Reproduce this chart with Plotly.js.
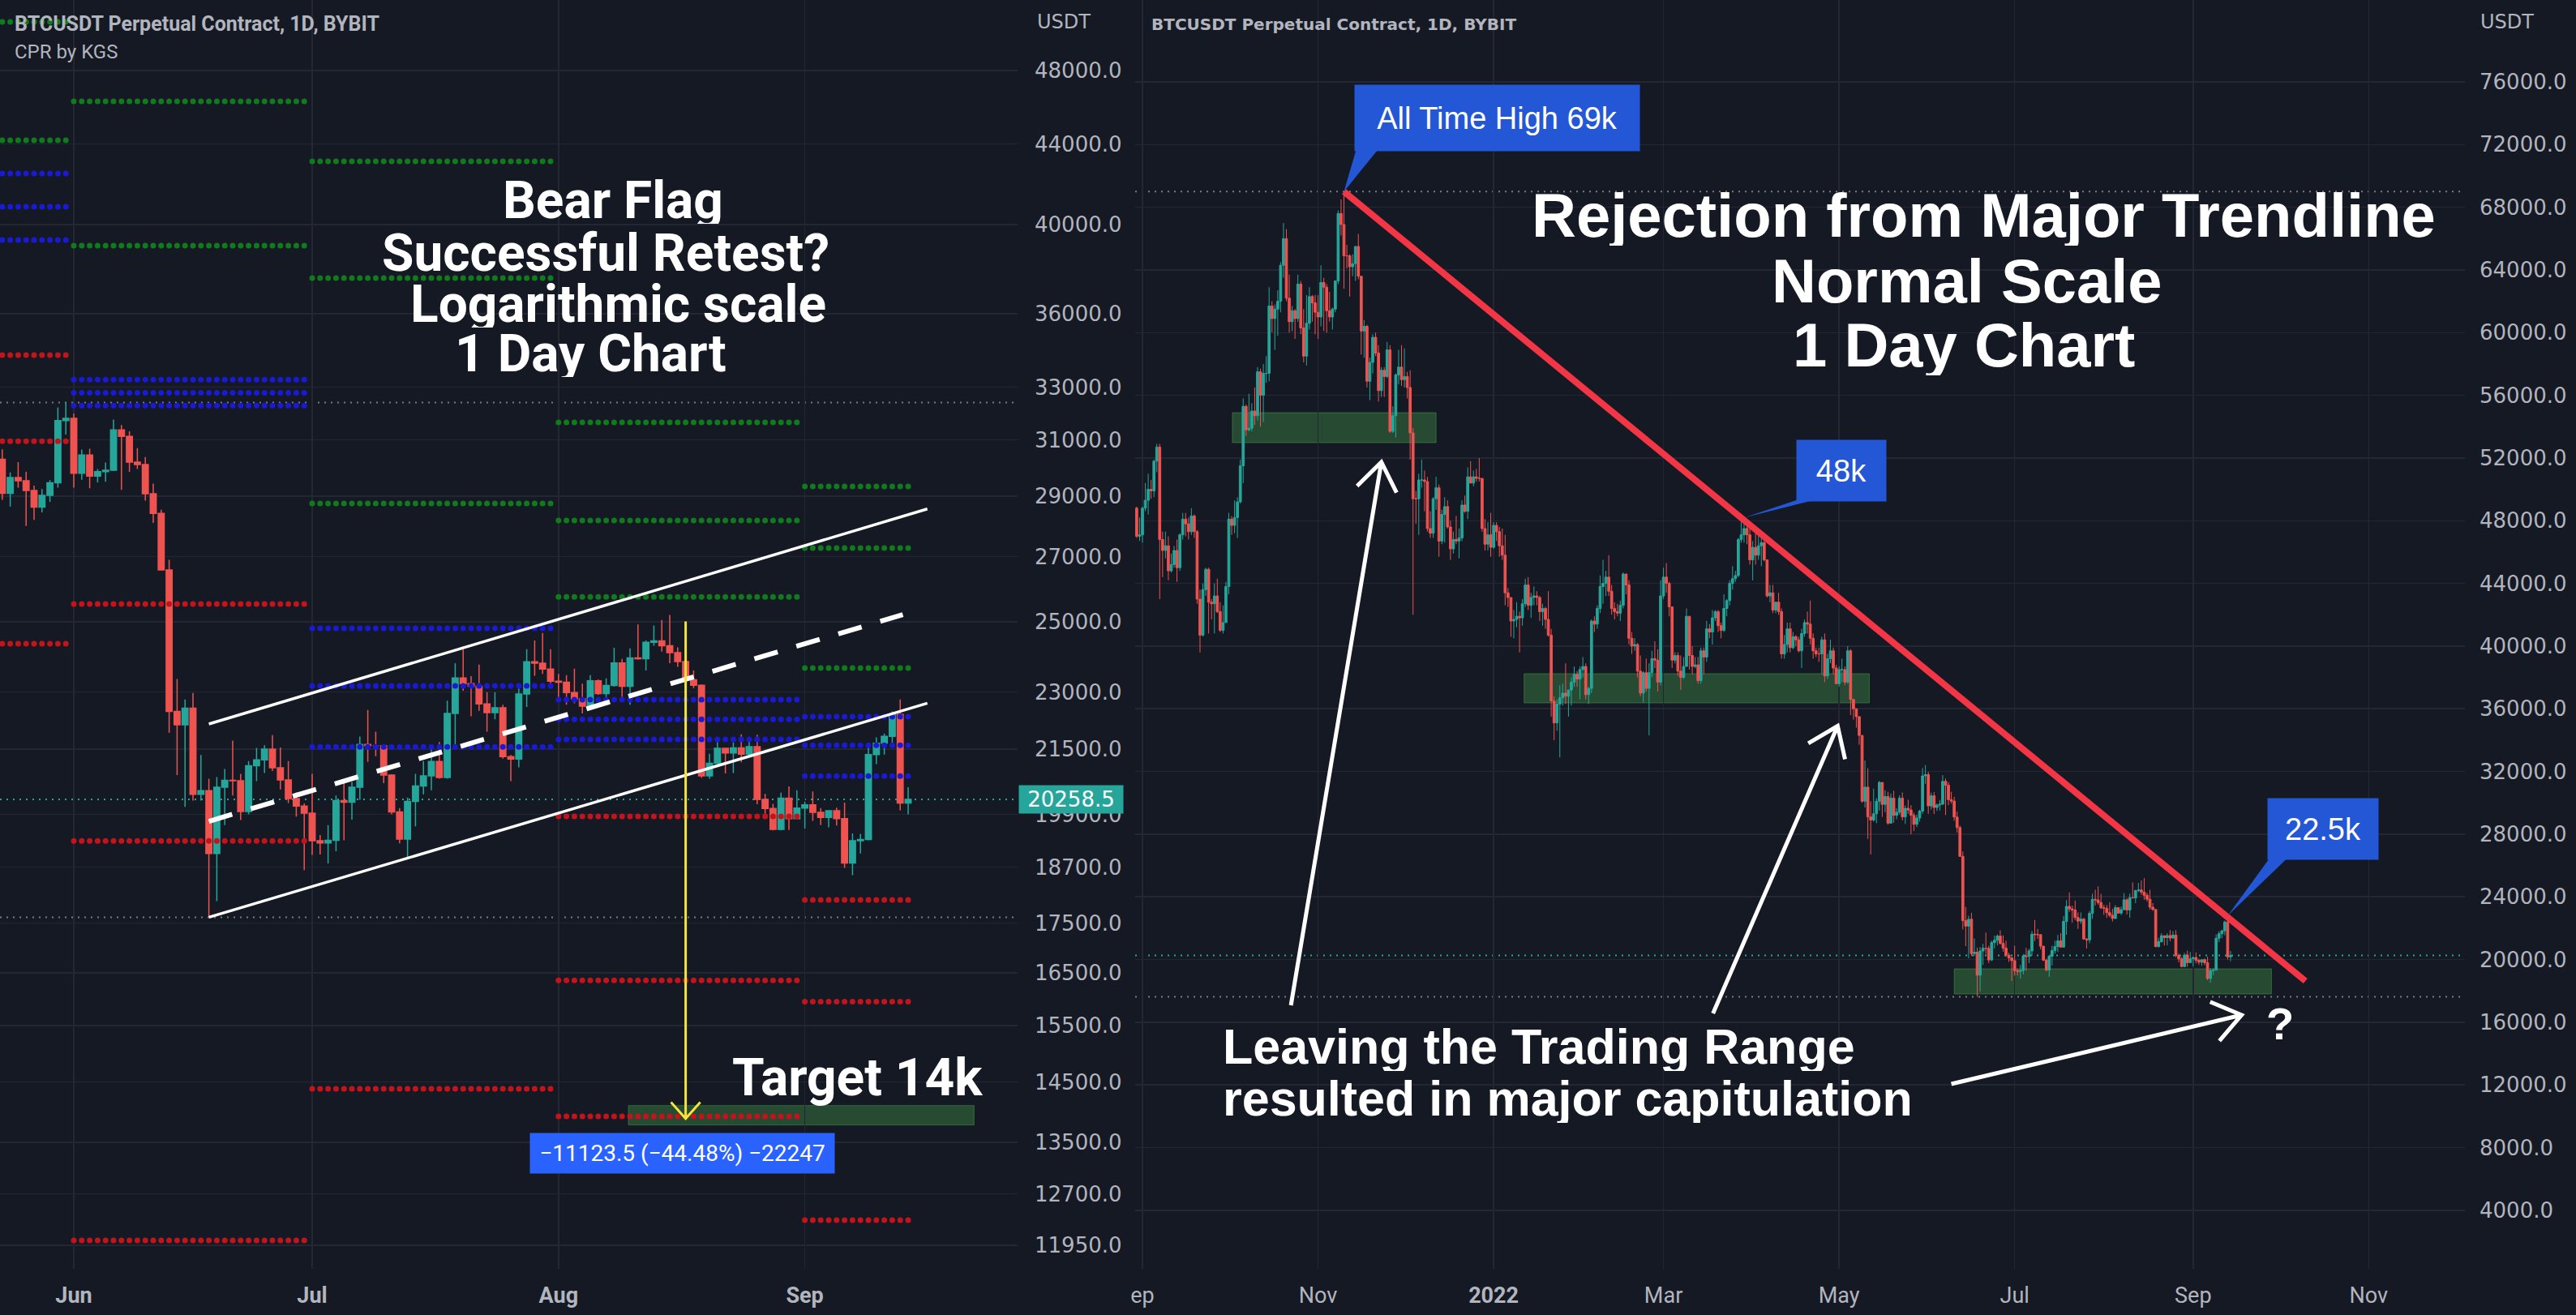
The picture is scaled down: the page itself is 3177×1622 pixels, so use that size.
<!DOCTYPE html>
<html>
<head>
<meta charset="utf-8">
<script src="https://cdn.plot.ly/plotly-3.0.1.min.js"></script>
<style>
html, body { margin: 0; padding: 0; background: #151924; }
#chart { width: 3177px; height: 1622px; }
</style>
</head>
<body>
<div id="chart"></div>
<script>
// BTCUSDT daily candles 2021-08-29 .. 2022-09-14, prices in thousands (open = previous close)
var startDay = [2021, 7, 29];
var firstOpen = 48.9;
var closes = [
  48.8, 47.0, 47.1,
  48.8, 49.3, 50.0, 49.9, 51.8, 52.7, 46.8, 46.1, 46.4, 44.8, 45.2, 46.1, 45.0, 47.1, 48.1, 47.8, 47.3, 48.3, 47.3, 43.0, 40.7, 43.6, 44.9, 42.8, 42.7, 43.2, 42.2, 41.0, 41.5, 43.8,
  48.1, 47.7, 48.2, 49.2, 51.5, 55.3, 53.8, 53.9, 55.0, 54.7, 57.5, 56.0, 57.4, 57.4, 61.7, 60.9, 61.5, 62.0, 64.3, 66.0, 62.2, 60.7, 61.4, 60.9, 63.1, 60.3, 58.5, 60.6, 62.3, 61.9, 61.3,
  61.0, 63.2, 62.9, 61.4, 61.0, 61.5, 63.3, 67.6, 66.9, 64.9, 64.9, 64.2, 64.4, 65.5, 63.6, 60.1, 60.4, 56.9, 58.1, 59.7, 58.7, 56.3, 57.6, 57.2, 58.9, 53.7, 54.7, 57.3, 57.8, 57.0,
  57.2, 56.5, 53.6, 49.4, 49.4, 50.6, 50.6, 50.5, 47.5, 47.2, 49.4, 50.1, 46.7, 48.4, 48.9, 47.6, 46.2, 46.8, 46.7, 46.9, 49.0, 48.6, 50.8, 50.4, 50.8, 50.7, 50.7, 47.5, 46.5, 47.1, 46.3,
  47.7, 47.3, 46.4, 45.8, 43.4, 43.1, 41.6, 41.7, 41.9, 41.8, 42.7, 43.9, 42.6, 43.1, 43.2, 43.1, 42.2, 42.4, 41.7, 40.7, 36.5, 35.1, 36.3, 36.7, 37.0, 36.8, 37.2, 37.7, 38.2, 37.9, 38.5,
  38.7, 36.9, 37.3, 41.6, 41.4, 42.4, 43.8, 44.0, 44.4, 43.5, 42.4, 42.2, 42.1, 42.6, 44.6, 43.9, 40.5, 40.0, 40.1, 38.4, 37.0, 38.3, 37.3, 38.3, 39.2, 39.1, 37.7, 43.2,
  44.4, 44.0, 42.5, 39.1, 39.4, 38.4, 38.0, 38.7, 41.9, 39.4, 38.7, 38.8, 37.8, 39.7, 39.3, 41.1, 40.9, 41.8, 42.2, 41.3, 41.0, 42.4, 42.9, 44.0, 44.3, 44.5, 46.8, 47.1, 47.5, 47.1, 45.5,
  46.3, 45.8, 46.4, 46.6, 45.5, 43.2, 43.4, 42.3, 42.8, 42.2, 39.5, 40.1, 41.1, 39.9, 40.6, 40.4, 39.7, 40.8, 41.5, 41.4, 40.5, 39.7, 39.5, 39.5, 40.4, 38.1, 39.2, 39.7, 38.6, 37.6,
  38.5, 38.5, 37.7, 39.7, 36.6, 36.0, 35.5, 34.3, 30.1, 31.0, 29.1, 28.9, 29.3, 30.1, 31.3, 29.9, 30.4, 28.7, 30.3, 29.2, 29.4, 30.3, 29.1, 29.65, 29.54, 29.2, 28.63, 29.03, 29.47, 31.72, 31.8,
  29.8, 30.45, 29.7, 29.86, 29.91, 31.37, 31.13, 30.2, 30.11, 29.09, 28.42, 26.58, 22.48, 22.13, 22.57, 20.38, 20.47, 19.0, 20.55, 20.72, 20.71, 19.97, 21.08, 21.23, 21.5, 21.03, 20.73, 20.28, 20.1, 19.93,
  19.29, 19.24, 19.3, 20.23, 20.19, 20.55, 21.62, 21.59, 21.59, 20.85, 19.96, 19.33, 20.21, 20.58, 20.83, 21.19, 20.79, 22.43, 23.39, 23.23, 23.16, 22.68, 22.45, 22.58, 21.31, 21.25, 22.95, 23.84, 23.8, 23.64, 23.3,
  23.27, 22.99, 22.82, 22.62, 23.31, 22.96, 23.18, 23.81, 23.16, 23.95, 23.93, 24.4, 24.44, 24.3, 24.1, 23.85, 23.34, 23.19, 20.83, 21.14, 21.52, 21.4, 21.53, 21.37, 21.56, 20.26, 20.04, 19.55, 20.29, 19.8, 20.05,
  20.13, 19.95, 19.83, 19.99, 19.8, 18.79, 19.29, 19.32, 21.36, 21.65, 21.83, 22.4, 20.17, 20.2585
];
var highs = [
  49.6, 48.9, 48.2,
  48.9, 50.4, 51.0, 50.6, 51.9, 52.9, 52.9, 47.3, 47.3, 47.0, 45.9, 46.4, 46.8, 47.2, 48.5, 48.5, 48.2, 48.8, 48.4, 47.4, 43.6, 44.0, 45.0, 45.0, 43.0, 44.0, 44.3, 42.8, 42.6, 44.1,
  48.5, 48.3, 49.3, 49.5, 51.9, 55.8, 55.4, 56.1, 55.5, 56.5, 57.8, 57.7, 58.0, 58.5, 62.9, 62.0, 61.8, 62.7, 64.5, 67.0, 66.6, 63.7, 61.7, 61.5, 63.7, 63.3, 61.5, 62.4, 62.9, 62.4, 62.4,
  62.4, 64.3, 63.5, 63.1, 62.6, 61.6, 63.3, 67.8, 68.5, 69.0, 65.6, 65.0, 65.0, 65.5, 66.3, 63.6, 60.8, 60.5, 58.4, 59.9, 60.0, 59.2, 57.8, 57.8, 59.4, 59.2, 55.3, 57.4, 58.9, 59.2,
  59.0, 57.5, 57.6, 53.9, 49.9, 51.0, 51.9, 51.2, 50.8, 48.6, 49.5, 50.8, 50.3, 48.7, 49.5, 49.3, 48.0, 47.3, 48.3, 47.5, 49.3, 49.6, 51.4, 51.8, 51.2, 51.3, 52.0, 50.7, 48.1, 47.9, 48.5,
  47.9, 47.9, 47.6, 47.5, 47.1, 43.7, 43.1, 42.3, 42.8, 42.2, 43.0, 44.3, 44.4, 43.4, 43.8, 43.5, 43.2, 42.7, 42.5, 43.5, 41.1, 36.8, 36.6, 37.5, 37.6, 38.9, 37.2, 38.0, 38.7, 38.4, 38.7,
  39.3, 38.9, 37.4, 41.7, 41.9, 42.6, 44.5, 45.5, 44.8, 45.8, 43.9, 42.8, 42.7, 42.9, 44.7, 44.6, 44.2, 40.9, 40.5, 40.2, 39.4, 38.4, 39.2, 38.9, 39.7, 40.3, 39.8, 44.2,
  45.0, 45.3, 44.1, 42.5, 39.6, 39.6, 39.4, 39.3, 42.4, 41.9, 40.0, 39.3, 39.3, 39.9, 39.9, 41.6, 41.4, 42.3, 42.3, 42.3, 41.5, 43.3, 43.0, 44.2, 45.1, 44.8, 46.9, 48.2, 48.2, 47.7, 47.6,
  46.7, 47.2, 47.4, 46.9, 47.2, 45.5, 43.9, 43.9, 42.8, 43.4, 42.4, 40.7, 41.5, 41.5, 40.9, 40.7, 40.6, 41.1, 41.7, 42.2, 42.9, 40.8, 39.9, 39.9, 40.6, 40.8, 39.5, 40.4, 39.9, 38.8,
  38.7, 39.2, 38.7, 40.0, 39.8, 36.6, 36.0, 35.5, 34.3, 32.7, 32.2, 30.1, 30.9, 30.3, 31.4, 31.3, 30.8, 30.7, 30.6, 30.77, 29.66, 30.48, 30.66, 29.83, 30.2, 29.85, 29.37, 29.25, 29.56, 32.22, 32.4,
  31.98, 30.65, 30.68, 29.95, 30.18, 31.76, 31.55, 31.32, 30.7, 30.38, 29.44, 28.54, 26.9, 23.36, 22.8, 22.98, 21.35, 20.76, 20.8, 21.0, 21.72, 20.88, 21.2, 21.53, 21.6, 21.86, 21.54, 21.2, 20.43, 20.16,
  20.88, 19.42, 19.65, 20.35, 20.75, 20.68, 21.82, 22.52, 21.95, 21.6, 20.87, 20.05, 20.3, 20.88, 21.2, 21.57, 21.68, 22.77, 23.8, 24.28, 23.44, 23.76, 23.0, 23.0, 22.66, 21.35, 23.1, 24.2, 24.45, 24.67, 24.2,
  23.5, 23.47, 23.65, 23.23, 23.47, 23.35, 23.38, 24.24, 23.92, 24.22, 24.92, 24.45, 24.89, 25.05, 25.2, 24.25, 24.45, 23.6, 23.21, 21.38, 21.68, 21.52, 21.67, 21.88, 21.81, 21.87, 20.39, 20.15, 20.42, 20.57, 20.48,
  20.2, 20.45, 20.05, 20.0, 20.06, 20.18, 19.46, 19.45, 21.6, 21.8, 21.9, 22.48, 22.8, 20.55
];
var lows = [
  47.8, 46.9, 46.7,
  46.6, 48.6, 48.4, 49.4, 49.5, 51.1, 43.0, 44.4, 45.6, 44.2, 44.7, 45.0, 44.1, 44.8, 46.8, 47.0, 46.8, 47.1, 46.9, 42.7, 39.6, 40.6, 43.2, 40.8, 41.7, 40.8, 42.1, 40.9, 40.8, 41.5,
  43.3, 47.1, 47.2, 46.9, 49.1, 50.4, 53.4, 53.7, 53.7, 54.1, 54.4, 54.0, 54.3, 56.8, 56.9, 60.0, 58.9, 59.8, 61.3, 63.5, 62.0, 60.0, 60.1, 59.6, 60.7, 59.9, 58.1, 57.9, 60.2, 60.7, 59.9,
  59.6, 60.4, 60.1, 60.0, 60.7, 60.2, 61.3, 63.1, 66.2, 62.8, 64.1, 62.3, 63.6, 63.3, 63.4, 58.6, 58.4, 56.5, 55.7, 57.4, 58.5, 55.6, 55.9, 55.9, 57.1, 53.6, 53.6, 53.3, 56.7, 56.6,
  56.5, 55.8, 51.9, 42.0, 47.8, 47.1, 50.1, 48.6, 47.3, 46.9, 46.9, 48.7, 45.7, 46.5, 46.6, 47.5, 45.5, 45.9, 46.5, 45.6, 46.7, 48.5, 48.1, 50.4, 50.2, 50.5, 50.5, 47.3, 46.1, 46.1, 45.7,
  46.2, 46.7, 45.7, 45.5, 42.6, 42.5, 40.6, 40.5, 41.2, 39.6, 41.3, 42.5, 42.3, 41.8, 42.6, 42.6, 41.6, 41.3, 41.1, 40.6, 35.5, 34.0, 34.6, 32.9, 36.2, 36.3, 35.5, 36.2, 37.4, 37.4, 36.6,
  38.0, 36.6, 36.3, 37.0, 40.9, 41.1, 42.1, 42.7, 43.2, 43.2, 42.0, 41.7, 41.9, 41.6, 42.4, 43.3, 40.1, 39.5, 39.7, 38.0, 36.8, 36.4, 37.1, 34.3, 38.0, 38.6, 37.1, 37.5,
  43.0, 43.4, 41.9, 38.6, 38.9, 38.1, 37.2, 37.9, 38.7, 38.5, 38.2, 38.6, 37.6, 37.6, 38.2, 39.0, 40.5, 40.1, 41.6, 40.9, 40.5, 40.9, 41.9, 42.6, 43.6, 44.1, 44.4, 46.6, 46.6, 46.5, 45.2,
  44.2, 45.2, 45.5, 45.1, 45.4, 43.1, 42.8, 42.1, 42.1, 42.0, 39.2, 39.2, 39.6, 39.6, 39.8, 40.0, 39.6, 38.6, 40.6, 40.8, 40.1, 39.2, 39.3, 39.0, 38.2, 37.7, 37.9, 38.9, 38.2, 37.6,
  37.4, 37.7, 37.5, 37.6, 35.6, 35.3, 34.8, 33.7, 30.0, 29.7, 27.7, 26.7, 28.8, 28.7, 29.5, 29.1, 29.4, 28.6, 28.7, 28.73, 28.95, 29.24, 28.88, 28.65, 29.3, 28.0, 28.2, 28.45, 28.8, 29.3, 31.2,
  29.3, 29.57, 29.28, 29.48, 29.5, 29.88, 29.22, 29.85, 29.95, 28.85, 28.1, 26.56, 21.92, 20.85, 20.08, 20.23, 20.23, 17.62, 17.96, 19.65, 20.35, 19.77, 19.9, 20.7, 20.9, 20.95, 20.5, 20.17, 19.85, 18.63,
  18.97, 18.98, 18.78, 19.05, 19.3, 19.78, 20.25, 21.18, 21.32, 20.65, 19.9, 19.23, 18.9, 19.62, 20.38, 20.48, 20.76, 20.76, 21.58, 23.04, 22.35, 22.5, 21.95, 22.27, 21.26, 20.7, 21.04, 22.6, 23.45, 23.5, 23.22,
  22.85, 22.66, 22.7, 22.43, 22.59, 22.93, 22.84, 23.15, 22.87, 22.66, 23.9, 23.6, 24.3, 24.13, 23.8, 23.7, 23.18, 23.11, 20.78, 20.76, 21.07, 20.89, 20.9, 21.17, 21.32, 20.14, 19.82, 19.53, 19.53, 19.54, 19.8,
  19.57, 19.75, 19.65, 19.6, 19.64, 18.68, 18.52, 19.0, 19.3, 21.12, 21.36, 21.55, 20.0, 19.9
];

// CPR by KGS monthly levels (left chart)
var cprMonths = ['2022-05', '2022-06', '2022-07', '2022-08', '2022-09'];
var cprGreen = [[50846, 44197], [46280, 39015], [43110, 37545, 28752], [31651, 28180, 25747], [29338, 27274, 23664]];
var cprBlue = [[42490, 40850, 39280], [33298, 32780, 32290], [24802, 23170, 21557], [22795, 22272, 21749], [22339, 21600, 20827]];
var cprRed = [[34272, 30955, 24355], [25527, 19286, 12019], [14381], [19853, 16353, 13920], [17986, 15947, 12312]];

// axis ticks
var leftTicks = [48000, 44000, 40000, 36000, 33000, 31000, 29000, 27000, 25000, 23000, 21500, 19900, 18700, 17500, 16500, 15500, 14500, 13500, 12700, 11950];
var rightTicks = [76000, 72000, 68000, 64000, 60000, 56000, 52000, 48000, 44000, 40000, 36000, 32000, 28000, 24000, 20000, 16000, 12000, 8000, 4000];
var leftMonths = ['2022-06-01', '2022-07-01', '2022-08-01', '2022-09-01'];
var leftMonthText = ['Jun', 'Jul', 'Aug', 'Sep'];
var rightMonths = ['2021-09-01', '2021-11-01', '2022-01-01', '2022-03-01', '2022-05-01', '2022-07-01', '2022-09-01', '2022-11-01'];
var rightMonthText = ['ep', 'Nov', '<b>2022</b>', 'Mar', 'May', 'Jul', 'Sep', 'Nov'];

var W = 3177, H = 1622;
var plotBottom = 1565, leftEdge = 1255, rightStart = 1400, rightEdge = 3040;
var BG = '#151924', GRID = '#232733', AXTXT = '#b2b5be';
var UP = '#26a69a', DOWN = '#ef5350';

var leftRange = ['2022-05-22 17:08:00', '2022-09-27 18:35:00'];
var leftY = [Math.log10(11623), Math.log10(52180)];
var rightRange = ['2021-08-29 11:15:00', '2022-12-04 10:00:00'];
var rightY = [267, 81224];

function toMs(s) {
  var p = s.split(/[- :_T]/).map(Number);
  return Date.UTC(p[0], p[1] - 1, p[2], p[3] || 0, p[4] || 0, p[5] || 0);
}
function toStr(t) { return new Date(t).toISOString().slice(0, 19).replace('T', '_'); }
function pp(d) { return d.replace(' ', '_'); }

var dates = [], o = [], h = [], l = [], c = [];
var t0 = Date.UTC(startDay[0], startDay[1], startDay[2]);
for (var i = 0; i < closes.length; i++) {
  dates.push(new Date(t0 + i * 864e5).toISOString().slice(0, 10));
  o.push((i === 0 ? firstOpen : closes[i - 1]) * 1000);
  h.push(highs[i] * 1000);
  l.push(lows[i] * 1000);
  c.push(closes[i] * 1000);
}
var lastPrice = c[c.length - 1];
var lStart = dates.indexOf('2022-05-15');
var vis = dates.map(function (d) { return d >= '2022-05-23'; });
var leftHigh = Math.max.apply(null, h.filter(function (v, i) { return vis[i]; }));
var leftLow = Math.min.apply(null, l.filter(function (v, i) { return vis[i]; }));
var rightHigh = Math.max.apply(null, h);
var rightLow = Math.min.apply(null, l);

// CPR dots
function cprTrace(levels, color) {
  var xs = [], ys = [];
  dates.forEach(function (d) {
    var k = cprMonths.indexOf(d.slice(0, 7));
    if (k < 0) return;
    levels[k].forEach(function (v) { xs.push(d); ys.push(v); });
  });
  return { type: 'scatter', mode: 'markers', x: xs, y: ys, xaxis: 'x', yaxis: 'y',
    marker: { color: color, size: 7, line: { width: 0 } }, hoverinfo: 'skip' };
}

var traces = [
  cprTrace(cprGreen, '#107a1c'),
  cprTrace(cprBlue, '#1a1ad2'),
  cprTrace(cprRed, '#c3141b'),
  { type: 'candlestick', x: dates.slice(lStart), open: o.slice(lStart), high: h.slice(lStart), low: l.slice(lStart), close: c.slice(lStart),
    xaxis: 'x', yaxis: 'y', hoverinfo: 'skip',
    increasing: { line: { color: UP, width: 1.5 }, fillcolor: UP },
    decreasing: { line: { color: DOWN, width: 1.5 }, fillcolor: DOWN } },
  { type: 'candlestick', x: dates, open: o, high: h, low: l, close: c,
    xaxis: 'x2', yaxis: 'y2', hoverinfo: 'skip',
    increasing: { line: { color: UP, width: 1 }, fillcolor: UP },
    decreasing: { line: { color: DOWN, width: 1 }, fillcolor: DOWN } }
];

// pixel helpers for arrow heads
var PL = { x0: toMs(leftRange[0]), x1: toMs(leftRange[1]), w: leftEdge, y0: leftY[0], y1: leftY[1], h: plotBottom, log: true };
var PR = { x0: toMs(rightRange[0]), x1: toMs(rightRange[1]), w: rightEdge - rightStart, y0: rightY[0], y1: rightY[1], h: plotBottom, log: false };
function toPx(P, x, y) {
  return [(toMs(x) - P.x0) / (P.x1 - P.x0) * P.w, ((P.log ? Math.log10(y) : y) - P.y0) / (P.y1 - P.y0) * P.h];
}
function fromPx(P, px, py) {
  var v = P.y0 + py / P.h * (P.y1 - P.y0);
  return toStr(P.x0 + px / P.w * (P.x1 - P.x0)) + ',' + (P.log ? Math.pow(10, v) : v);
}
function arrowPath(P, tail, tip, len, deg) {
  var a = toPx(P, tail[0], tail[1]), b = toPx(P, tip[0], tip[1]);
  var dx = a[0] - b[0], dy = a[1] - b[1], n = Math.sqrt(dx * dx + dy * dy);
  dx /= n; dy /= n;
  var r = deg * Math.PI / 180;
  function arm(s) {
    var cs = Math.cos(s * r), sn = Math.sin(s * r);
    return fromPx(P, b[0] + len * (dx * cs - dy * sn), b[1] + len * (dx * sn + dy * cs));
  }
  var tp = fromPx(P, b[0], b[1]);
  return 'M' + fromPx(P, a[0], a[1]) + 'L' + tp + 'M' + arm(1) + 'L' + tp + 'L' + arm(-1);
}

var shapes = [];
function hline(xref, yref, y, color) {
  shapes.push({ type: 'line', xref: xref + ' domain', x0: 0, x1: 1, yref: yref, y0: y, y1: y, layer: 'below',
    line: { color: color, width: 2, dash: '2px,6px' } });
}
hline('x', 'y', leftHigh, '#787b86');
hline('x', 'y', leftLow, '#787b86');
hline('x', 'y', lastPrice, UP);
hline('x2', 'y2', rightHigh, '#787b86');
hline('x2', 'y2', rightLow, '#787b86');
hline('x2', 'y2', lastPrice, UP);

function box(xref, yref, x0, x1, y0, y1) {
  shapes.push({ type: 'rect', xref: xref, yref: yref, x0: x0, x1: x1, y0: y0, y1: y1, layer: 'below',
    fillcolor: 'rgba(76,175,80,0.33)', line: { color: 'rgba(76,175,80,0.45)', width: 1 } });
}
box('x', 'y', '2022-08-09 19:00', '2022-09-22 07:00', 13780, 14100);
box('x2', 'y2', '2021-10-02 06:00', '2021-12-12 00:00', 52980, 54890);
box('x2', 'y2', '2022-01-11 14:00', '2022-05-11 12:00', 36375, 38237);
box('x2', 'y2', '2022-06-10 00:00', '2022-09-28 05:00', 17804, 19407);

// left chart drawings
function seg(xref, yref, a, b, line) {
  shapes.push({ type: 'line', xref: xref, yref: yref, x0: a[0], y0: a[1], x1: b[0], y1: b[1], line: line });
}
seg('x', 'y', ['2022-06-18', 22150], ['2022-09-16 10:00', 28570], { color: '#ffffff', width: 3.5 });
seg('x', 'y', ['2022-06-18', 17620], ['2022-09-16 10:00', 22700], { color: '#ffffff', width: 3.5 });
seg('x', 'y', ['2022-06-18', 19740], ['2022-09-13 08:00', 25210], { color: '#ffffff', width: 6, dash: '30px,24px' });
shapes.push({ type: 'path', xref: 'x', yref: 'y', path: arrowPath(PL, ['2022-08-17', 25008], ['2022-08-17', 13885], 27, 42),
  line: { color: '#f5e43a', width: 3 }, fillcolor: 'rgba(0,0,0,0)' });

// right chart drawings
seg('x2', 'y2', ['2021-11-10', 69000], ['2022-10-10', 18630], { color: '#f23645', width: 8 });
[[['2021-10-22 14:00', 17078], ['2021-11-23 00:00', 51738]],
 [['2022-03-18 05:00', 16562], ['2022-04-30 12:00', 34900]],
 [['2022-06-09 00:00', 12060], ['2022-09-17 20:00', 16460]]].forEach(function (ar) {
  shapes.push({ type: 'path', xref: 'x2', yref: 'y2', path: arrowPath(PR, ar[0], ar[1], 42, 36),
    line: { color: '#ffffff', width: 5 }, fillcolor: 'rgba(0,0,0,0)' });
});
function wedge(b1, b2, tip) {
  shapes.push({ type: 'path', xref: 'x2', yref: 'y2', fillcolor: '#2457d6', line: { width: 0 },
    path: 'M' + pp(b1[0]) + ',' + b1[1] + 'L' + pp(tip[0]) + ',' + tip[1] + 'L' + pp(b2[0]) + ',' + b2[1] + 'Z' });
}
wedge(['2021-11-14 07:00', 71700], ['2021-11-21 22:00', 71700], ['2021-11-10 00:00', 69000]);
wedge(['2022-04-16 19:00', 49350], ['2022-04-22 23:00', 49350], ['2022-03-29 00:00', 48200]);
wedge(['2022-09-27 14:00', 26480], ['2022-10-03 19:00', 26480], ['2022-09-13 00:00', 22800]);

// text
var ann = [];
function label(text, xpx, ypx, font, anchor, boxH) {
  var a = { xref: 'paper', yref: 'paper', x: xpx / W, y: 1 - ypx / H, text: text, showarrow: false,
    xanchor: anchor || 'center', yanchor: 'middle', font: font };
  if (boxH) { a.height = boxH; a.borderpad = 0; }
  ann.push(a);
}
var bigL = { family: 'Roboto', size: 64, color: '#ffffff', weight: 700 };
var bigR = { family: 'Liberation Sans', size: 76, color: '#ffffff', weight: 700 };
var cap = { family: 'Liberation Sans', size: 61, color: '#ffffff', weight: 700 };
label('Bear Flag', 756, 247, bigL, 'center', 58);
label('Successful Retest?', 747, 312, bigL, 'center', 58);
label('Logarithmic scale', 762, 375, bigL, 'center', 58);
label('1 Day Chart', 728, 436, bigL, 'center', 58);
label('Target 14k', 1057, 1329, bigL);
label('Rejection from Major Trendline', 2446, 265, bigR, 'center', 76);
label('Normal Scale', 2426, 346, bigR, 'center', 76);
label('1 Day Chart', 2422, 425, bigR, 'center', 76);
label('Leaving the Trading Range', 1507, 1291, cap, 'left', 60);
label('resulted in major capitulation', 1507, 1355, cap, 'left', 60);
label('?', 2812, 1262, { family: 'Liberation Sans', size: 56, color: '#ffffff', weight: 700 });
label('BTCUSDT Perpetual Contract, 1D, BYBIT', 16, 30, { family: 'Roboto', size: 25, color: AXTXT, weight: 700 }, 'left');
label('CPR by KGS', 16, 64, { family: 'Roboto', size: 24, color: AXTXT }, 'left');
label('BTCUSDT Perpetual Contract, 1D, BYBIT', 1418, 30, { family: 'DejaVu Sans', size: 20, color: AXTXT, weight: 700 }, 'left');
label('USDT', 1277, 27, { family: 'DejaVu Sans', size: 24, color: AXTXT }, 'left');
label('USDT', 3057, 27, { family: 'DejaVu Sans', size: 24, color: AXTXT }, 'left');

function callout(text, x, y, w, hh) {
  ann.push({ xref: 'x2', yref: 'y2', x: x, y: y, text: text, showarrow: false, bgcolor: '#2457d6',
    width: w, height: hh, borderpad: 0, font: { family: 'Liberation Sans', size: 38, color: '#ffffff' } });
}
callout('All Time High 69k', '2022-01-02 05:00', 73700, 351, 81);
callout('48k', '2022-05-01 17:00', 51195, 110, 75);
callout('22.5k', '2022-10-16 04:00', 28330, 136, 75);

ann.push({ xref: 'x', yref: 'y', x: '2022-08-16 14:00', y: Math.log10(13330), showarrow: false,
  text: '\u221211123.5 (\u221244.48%) \u221222247', bgcolor: '#2962ff', width: 375, height: 49, borderpad: 0,
  font: { family: 'Roboto', size: 28, color: '#ffffff' } });
ann.push({ xref: 'paper', yref: 'y', x: (leftEdge + 1) / W, xanchor: 'left', y: Math.log10(lastPrice), showarrow: false,
  text: lastPrice.toFixed(1), bgcolor: UP, width: 128, height: 34, borderpad: 0,
  font: { family: 'DejaVu Sans', size: 26, color: '#ffffff' } });

var yDom = [(H - plotBottom) / H, 1];
var layout = {
  width: W, height: H,
  margin: { l: 0, r: 0, t: 0, b: 0, pad: 0 },
  paper_bgcolor: BG, plot_bgcolor: BG,
  showlegend: false, hovermode: false, dragmode: false,
  boxgap: 0.2, boxgroupgap: 0.06,
  xaxis: { domain: [0, leftEdge / W], type: 'date', range: leftRange, rangeslider: { visible: false },
    tickvals: leftMonths, ticktext: leftMonthText, showgrid: true, gridcolor: GRID, gridwidth: 1.5, zeroline: false, showline: false,
    ticklabelstandoff: 14, tickfont: { family: 'Roboto', size: 27, color: AXTXT, weight: 700 } },
  yaxis: { domain: yDom, anchor: 'x', type: 'log', range: leftY, side: 'right',
    tickvals: leftTicks, ticktext: leftTicks.map(function (v) { return v.toFixed(1); }),
    showgrid: true, gridcolor: GRID, gridwidth: 1.5, zeroline: false, showline: false,
    ticklabelstandoff: 20, tickfont: { family: 'DejaVu Sans', size: 26, color: AXTXT } },
  xaxis2: { domain: [rightStart / W, rightEdge / W], anchor: 'y2', type: 'date', range: rightRange, rangeslider: { visible: false },
    tickvals: rightMonths, ticktext: rightMonthText, showgrid: true, gridcolor: GRID, gridwidth: 1.5, zeroline: false, showline: false,
    ticklabelstandoff: 14, tickfont: { family: 'Roboto', size: 27, color: AXTXT } },
  yaxis2: { domain: yDom, anchor: 'x2', type: 'linear', range: rightY, side: 'right',
    tickvals: rightTicks, ticktext: rightTicks.map(function (v) { return v.toFixed(1); }),
    showgrid: true, gridcolor: GRID, gridwidth: 1.5, zeroline: false, showline: false,
    ticklabelstandoff: 17, tickfont: { family: 'DejaVu Sans', size: 26, color: AXTXT } },
  shapes: shapes,
  annotations: ann
};

Plotly.newPlot('chart', traces, layout, { staticPlot: true, displayModeBar: false });
</script>
</body>
</html>
